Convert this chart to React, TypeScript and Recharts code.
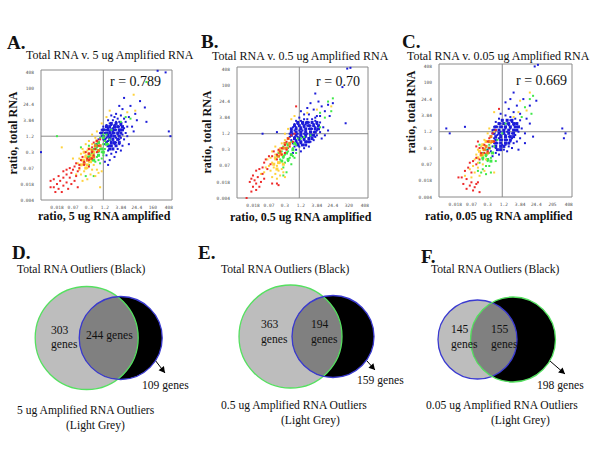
import { ScatterChart, Scatter, XAxis, YAxis, ReferenceLine, ReferenceDot } from 'recharts'

// positions on the chart's log-ratio scale, one unit per labelled tick
const xTicksA = ['', '0.018', '0.07', '0.3', '1.2', '3.84', '24.4', '160', '408']
const xTicksB = ['', '0.018', '0.07', '0.3', '1.2', '3.84', '24.4', '320', '408']
const xTicksC = ['', '0.018', '0.07', '0.3', '1.2', '3.84', '24.4', '205', '408']
const yTicks = ['0.004', '0.018', '0.07', '0.3', '1.2', '3.84', '24.4', '100', '408']

const aBlue = [[7.8,8],[7.3,8.1],[8,4.3],[8.1,4],[0,3],[6.6,4.9],[6.5,5.8],[6.2,6.2],[5.2,6.4],[5.6,5.9],[5.9,5.4],[5.5,5.2],[5.1,5.7],[4.9,5.9],[4.7,5.4],[5.3,4.9],[5.7,4.6],[5,5.3],[4.8,5.1],[5.2,5.1],[5.4,4.6],[4.4,5.3],[4.6,5.2],[4.2,5],[4.9,4.9],[4.5,5],[4.3,4.8],[4.7,4.9],[5,4.7],[5.2,4.5],[4.1,4.7],[4.4,4.7],[4.6,4.7],[4.8,4.6],[5,4.4],[5.3,4.2],[3.9,4.6],[4.2,4.5],[4.5,4.5],[4.7,4.4],[4.9,4.3],[5.1,4.1],[3.8,4.4],[4,4.4],[4.3,4.3],[4.6,4.2],[4.8,4.1],[5,3.9],[5.2,3.8],[3.7,4.2],[4,4.2],[4.2,4.1],[4.4,4.1],[4.7,3.9],[4.9,3.8],[3.8,4],[4.1,3.9],[4.3,3.9],[4.5,3.8],[4.7,3.6],[4.9,3.5],[5.1,3.4],[3.9,3.8],[4.2,3.7],[4.4,3.6],[4.6,3.5],[4.8,3.2],[4,3.5],[4.3,3.4],[4.5,3.2],[4.7,3],[4.2,3.1],[4.4,2.9],[4.6,2.7],[4.1,2.8],[4.3,2.5],[4,2.4],[4.2,2.2],[3.9,3],[3.7,3.4],[5.5,3.5],[5.4,4],[5.8,4.3],[6,5],[4.5,4.3],[4.1,4.4],[4.4,3.4],[5,3.1],[3.6,3.8],[3.5,3.5],[4.9,4.6],[4.6,4.4],[4.3,4.6]]
const aGreen = [[6.6,7.4],[1,4],[5.3,5.2],[5.6,5.1],[5,4.9],[4.4,4.4],[4.1,4.1],[3.9,4.1],[3.7,3.9],[4,3.7],[3.6,3.6],[3.9,3.5],[4.2,3.5],[3.4,3.5],[3.7,3.2],[4,3.2],[3.3,3.2],[3.6,3],[3.9,2.8],[3.2,3],[3.5,2.7],[3.8,2.6],[3.1,2.8],[3.4,2.4],[3.7,2.3],[2.9,2.7],[3.2,2.5],[3,3.4],[2.7,3],[3.3,1.5],[2.8,1.5],[2.5,3.3],[3.5,3.3],[3.8,3],[4.3,3.8],[3,2.2],[3.3,2.9],[3.6,2.5]]
const aYellow = [[5.8,6.6],[5.9,5.6],[5.4,5.5],[4.3,5.6],[4.1,5.2],[3.8,4.8],[3.5,4.3],[3.2,4.1],[3.4,3.9],[3,3.7],[2.8,3.5],[3.2,3.5],[2.6,3.2],[2.9,3.1],[3.1,3.2],[2.5,2.9],[2.8,2.8],[3.1,2.6],[2.4,2.6],[2.7,2.5],[3,2.4],[3.3,2.2],[2.3,2.3],[2.6,2.2],[2.9,2],[3.2,1.9],[3.5,1.9],[2.4,1.9],[2.7,1.8],[3.1,1.6],[2.5,1.6],[2.9,1.3],[3.6,1.7],[2.2,1.6],[2,2.6],[1.3,3.3],[3.8,1.8],[3.7,0.8],[2.6,1.2],[3.4,1.5]]
const aRed = [[3.7,3.8],[3.5,3.7],[3.3,3.6],[3.6,3.4],[3.2,3.3],[3.4,3.2],[3,3.2],[3.2,3],[3.5,3],[2.8,3],[3,2.9],[3.3,2.8],[2.6,2.7],[2.9,2.6],[3.2,2.6],[2.7,2.4],[3,2.5],[2.5,2.5],[2.4,2.2],[2.7,2.2],[3,2.1],[2.2,2.3],[2.1,2.1],[2.4,2],[2,1.9],[2.3,1.8],[1.8,2],[1.6,1.9],[1.9,1.7],[2.2,1.5],[1.6,1.6],[1.4,1.8],[1.8,1.4],[2.1,1.2],[1.4,1.4],[1.1,1.5],[0.8,1.3],[1.2,1.2],[1.6,1.1],[1.9,1],[0.6,1.2],[1,1],[1.4,0.9],[0.8,0.8],[1.1,0.7],[1.7,0.7],[0.9,0.5],[1.3,0.5],[0.6,0.8],[2.3,0.8]]
const aBlueCore = [[4.4,4.8],[4.7,4.8],[5,4.8],[4.1,4.6],[4.3,4.6],[4.6,4.6],[4.8,4.6],[5.1,4.6],[3.9,4.4],[4.2,4.4],[4.4,4.4],[4.6,4.4],[4.9,4.4],[5.1,4.4],[3.8,4.2],[4.1,4.2],[4.3,4.2],[4.5,4.2],[4.8,4.2],[5,4.2],[3.9,4],[4.2,4],[4.4,4],[4.6,4],[4.9,4],[4,3.8],[4.3,3.8],[4.5,3.8],[4.8,3.8],[4.1,3.6],[4.4,3.6],[4.6,3.6],[4.9,3.6],[4.2,3.4],[4.4,3.4],[4.7,3.4],[4.3,3.2],[4.5,3.2]]
const aGreenCore = [[3.6,3.6],[3.9,3.9],[3.4,3.2],[3.8,3.2],[4.1,3.5],[3.2,2.9],[3.6,2.8],[3.9,3],[3,2.7],[3.3,2.5],[3.5,3.4]]
const aYellowCore = [[3,3.2],[2.8,2.7],[3.1,2.4],[2.6,2.5],[2.9,2.2],[3.3,3],[2.5,2.2],[2.8,2],[3.2,2.8],[2.7,3]]
const aOrangeCore = [[3.4,3.4],[3.2,3.1],[3,2.9],[3.3,2.7],[2.9,2.5],[3.6,3.1],[3.1,2.6],[2.7,2.3],[3.5,3.7],[3.7,3.4]]

const bBlue = [[6.9,8.05],[7.1,8.1],[6.6,6.9],[6.8,4.65],[1.6,4],[2.5,4.1],[4.9,6.5],[6,5.9],[5.7,5.8],[5.3,5.7],[5.1,6],[4.6,5.9],[5.5,5.4],[5.8,5.1],[4.4,5.6],[4.8,5.5],[5.2,5.1],[4.2,5.2],[4.5,5.2],[5,5.1],[3.9,5],[4.2,4.9],[4.4,4.9],[4.7,4.9],[4.9,4.8],[5.2,4.7],[3.7,4.8],[4,4.8],[4.3,4.7],[4.5,4.7],[4.8,4.6],[5,4.6],[3.6,4.6],[3.8,4.6],[4.1,4.6],[4.4,4.5],[4.6,4.5],[4.9,4.4],[5.1,4.3],[3.5,4.4],[3.7,4.4],[4,4.4],[4.2,4.4],[4.5,4.3],[4.7,4.3],[5,4.2],[5.2,4.1],[3.4,4.2],[3.6,4.2],[3.9,4.2],[4.1,4.2],[4.3,4.2],[4.6,4.1],[4.8,4.1],[5,3.9],[3.3,4],[3.5,4],[3.8,4],[4,4],[4.2,4],[4.4,4],[4.7,3.9],[4.9,3.8],[3.3,3.8],[3.6,3.8],[3.8,3.8],[4.1,3.8],[4.3,3.8],[4.5,3.7],[4.8,3.6],[3.4,3.6],[3.7,3.6],[3.9,3.6],[4.2,3.6],[4.4,3.5],[4.6,3.5],[3.5,3.4],[3.8,3.4],[4,3.4],[4.3,3.3],[4.5,3.2],[3.6,3.2],[3.9,3.2],[4.2,3.1],[3.7,3],[4,2.9],[3.5,2.8],[5.4,4.4],[5.5,3.9],[5.3,3.7],[4.3,4.6],[4.9,5],[3.2,3.7],[5.7,4.2],[4,5.4]]
const bGreen = [[6,6.2],[5.7,6],[5.9,5.4],[5.2,5.3],[5.5,5],[5.2,4.4],[4.6,3.9],[4.2,3.8],[3.8,3.7],[3.4,3.5],[3.1,3.4],[3.5,3.1],[3.2,3.1],[3.7,2.8],[2.9,3.2],[3.2,2.9],[3.5,2.6],[2.8,2.9],[3,2.7],[3.3,2.5],[3.6,2.5],[2.6,2.8],[2.9,2.5],[3.2,2.3],[2.7,2.4],[3,2.2],[3.4,2.1],[2.9,1.9],[2.5,2.6],[3.1,1.6],[2.9,1.4],[3.7,3.3],[4,3.7]]
const bYellow = [[5.9,5.7],[5,5.5],[4.4,5.3],[3.6,5.1],[3.4,4.9],[3.2,4.3],[3,4],[3.3,3.3],[3,3.6],[2.8,3.4],[2.7,3.1],[2.4,3.2],[2.6,2.9],[2.2,2.9],[2.4,2.7],[2.1,2.5],[2.4,2.4],[2.7,2.2],[1.9,2.4],[2.2,2.2],[2.5,2],[2.8,1.8],[2,2],[2.3,1.9],[2.6,1.7],[1.8,1.9],[2.1,1.7],[2.4,1.5],[2.7,1.4],[2.5,1.2],[1.7,1.6],[2.2,1.3],[1.5,1.5],[2.9,1.6],[3,1.3]]
const bRed = [[3.7,5.7],[3.6,4],[3.4,3.9],[3.2,3.7],[3.5,3.5],[3.1,3.5],[3,3.3],[3.3,3.2],[2.8,3.1],[3.1,3],[2.7,2.9],[3,2.8],[2.6,3],[2.5,2.7],[2.8,2.7],[2.3,2.9],[2.2,2.6],[2.5,2.4],[2,2.6],[1.8,2.4],[2.1,2.1],[1.7,2.2],[1.6,1.9],[1.9,1.8],[1.4,1.8],[1.2,1.7],[1.6,1.5],[1,1.4],[1.3,1.3],[1.7,1.2],[0.9,1.2],[1.1,1.1],[1.5,1],[0.8,1],[1.2,0.9],[1,0.7],[1.4,0.7],[1.2,0.5],[0.9,0.4],[2.5,0.9],[2.6,0.8],[2.2,0.9],[0.6,0]]
const bBlueCore = [[3.8,4.7],[4.1,4.7],[4.4,4.7],[4.7,4.7],[5,4.7],[3.6,4.5],[3.9,4.5],[4.2,4.5],[4.5,4.5],[4.8,4.5],[5.1,4.5],[3.4,4.3],[3.7,4.3],[4,4.3],[4.3,4.3],[4.6,4.3],[4.9,4.3],[5.1,4.3],[3.4,4.1],[3.7,4.1],[4,4.1],[4.3,4.1],[4.6,4.1],[4.9,4.1],[3.4,3.9],[3.7,3.9],[4,3.9],[4.3,3.9],[4.6,3.9],[4.8,3.9],[3.6,3.7],[3.9,3.7],[4.2,3.7],[4.5,3.7],[4.7,3.7],[3.7,3.5],[4,3.5],[4.3,3.5],[4.5,3.5],[3.8,3.3],[4.1,3.3],[4.3,3.3]]
const bGreenCore = [[3.2,3.3],[3.5,3],[3.1,2.8],[3.4,2.7],[2.9,2.6],[3.2,2.4],[3.6,3.4],[2.8,2.3]]
const bYellowCore = [[2.7,3],[2.4,2.5],[2.6,2.2],[2.3,2.1],[2.9,2.1],[2.5,1.8],[2.8,2.7]]
const bOrangeCore = [[3.2,3.7],[3,3.4],[2.9,3.1],[3.1,3.1],[2.7,2.8],[3.3,3.4],[2.6,2.6]]

const cBlue = [[5.9,8],[6.1,8.1],[4.6,6.4],[0.45,4.2],[1.6,4.3],[0.66,3.9],[7.6,4.2],[7.8,3.9],[7.7,3.6],[5.8,3.7],[5.3,3.9],[6,5.9],[5.6,5.6],[5.2,6],[4.4,6],[4.1,5.8],[4.8,5.6],[4.3,5.4],[4.6,5.2],[5,5.1],[5.4,4.8],[5.6,4.5],[3.8,5.1],[4.1,5],[4.4,4.9],[4.7,4.8],[5,4.7],[3.7,4.8],[3.9,4.7],[4.2,4.7],[4.5,4.6],[4.7,4.5],[3.5,4.6],[3.8,4.5],[4,4.5],[4.3,4.4],[4.6,4.4],[4.8,4.3],[5.1,4.2],[3.4,4.3],[3.6,4.3],[3.9,4.3],[4.1,4.2],[4.4,4.2],[4.6,4.1],[4.9,4],[3.3,4.1],[3.5,4.1],[3.8,4],[4,4],[4.2,4],[4.5,3.9],[4.7,3.8],[5,3.6],[3.3,3.9],[3.6,3.8],[3.8,3.8],[4.1,3.8],[4.3,3.7],[4.5,3.6],[4.8,3.4],[3.4,3.6],[3.7,3.6],[3.9,3.5],[4.2,3.5],[4.4,3.4],[4.6,3.3],[3.4,3.3],[3.6,3.3],[3.9,3.2],[4.1,3.2],[4.3,3.1],[4.5,3],[3.3,3.1],[3.5,3],[3.8,2.9],[4,2.9],[4.2,2.8],[3.2,2.8],[3.5,2.7],[3.7,2.6],[3.3,2.5],[3,2.9],[4.9,2.9],[4.2,4.5],[4.7,4.1],[5.3,3.3],[4.4,4.7]]
const cGreen = [[5.8,6.2],[5.6,6],[5.3,5.5],[5.7,5.1],[5.1,4.9],[4.1,4.5],[3.9,3.9],[3.6,3.5],[3.2,3.7],[3.4,3.1],[3.1,3.2],[3.1,2.7],[2.9,2.9],[3.2,2.4],[2.9,2.5],[2.7,2.7],[3,2.2],[2.7,2.3],[2.9,1.9],[2.5,2.1],[2.7,1.7],[3.1,1.9],[2.4,1.6],[2.6,1.5],[3.2,1.5],[2.9,1.4],[3.5,2.2],[2.5,3.2]]
const cYellow = [[5.6,6.4],[5,5.9],[5.4,5.3],[4.9,5.2],[4.6,4.9],[3.4,5.2],[3.1,4.2],[3.4,4],[3,3.9],[2.8,3.5],[3.2,3.3],[2.6,3.1],[2.9,3.1],[2.4,2.9],[2.7,2.9],[2.3,2.6],[2.6,2.5],[2.9,2.3],[2.2,2.3],[2.4,2.1],[2.7,2],[2.1,1.9],[2.4,1.8],[2.8,1.6],[1.9,1.7],[2.2,1.5],[2.5,1.3],[1.6,1.3],[2,1.2],[3.4,1.5]]
const cRed = [[3.7,5.4],[3.5,4.1],[3.3,3.9],[3.1,3.6],[3.4,3.4],[3,3.4],[2.8,3.2],[3.1,3],[2.7,3],[3,2.8],[2.5,3],[2.8,2.7],[2.6,2.7],[2.4,3.4],[2.3,3.1],[2.3,2.4],[2.5,2.3],[2.1,2.2],[2.3,2],[1.9,2.1],[1.8,1.8],[2,1.5],[1.6,1.6],[1.4,1.2],[1.2,1.2],[1.7,1.1],[2,0.9],[1.5,0.8],[2.3,0.8],[1.9,0.7],[2.2,0.6],[2.4,0.9],[1.7,0.5],[2.1,0.4],[2.5,0.3]]
const cBlueCore = [[3.9,4.7],[4.2,4.7],[4.5,4.7],[3.7,4.5],[4,4.5],[4.3,4.5],[4.6,4.5],[4.8,4.5],[3.5,4.3],[3.8,4.3],[4.1,4.3],[4.4,4.3],[4.7,4.3],[4.9,4.3],[3.4,4.1],[3.7,4.1],[4,4.1],[4.3,4.1],[4.6,4.1],[4.8,4.1],[3.4,3.9],[3.7,3.9],[4,3.9],[4.3,3.9],[4.6,3.9],[3.5,3.7],[3.8,3.7],[4.1,3.7],[4.4,3.7],[4.6,3.7],[3.5,3.5],[3.8,3.5],[4.1,3.5],[4.4,3.5],[3.5,3.3],[3.8,3.3],[4.1,3.3],[4.3,3.3],[3.5,3.1],[3.8,3.1],[4,3.1],[3.6,2.9],[3.8,2.9]]
const cGreenCore = [[3.1,3],[3.3,2.7],[2.9,2.6],[3,2.3],[2.7,2.4],[3.2,2.2]]
const cYellowCore = [[2.7,3.2],[2.5,2.8],[2.7,2.6],[2.4,2.4],[2.9,3.4]]
const cOrangeCore = [[2.9,3.1],[3.1,3.4],[2.8,2.9],[3.2,3.7],[3,2.7],[2.6,2.6],[3.3,3.4]]

const amplifiedOnly = [303, 363, 145]
const shared = [244, 194, 155]
const totalOnly = [109, 159, 198]

const serif = '"Liberation Serif", "Times New Roman", serif'
const GREY = '#8a8a8a'
const RED = '#ee2a2a'
const ORANGE = '#f0861e'
const YELLOW = '#ffd23c'
const GREEN = '#3fe84a'
const BLUE = '#1c1cd8'
const VGREEN = '#55e060'
const VBLUE = '#3a3ad0'

const pts = (list: number[][]) => list.map(([x, y]) => ({ x, y }))

const Dot = (props: any) => <rect x={props.cx - 1} y={props.cy - 1} width={2} height={2} fill={props.fill} />
const Big = (props: any) => <rect x={props.cx - 1.5} y={props.cy - 1.5} width={3} height={3} fill={props.fill} />
const NoMark = () => null

function Txt({ x, y, size = 11.6, bold, children, rotate }: any) {
  return (
    <span
      style={{
        position: 'absolute', left: x, top: y, fontFamily: serif, fontSize: size,
        fontWeight: bold ? 'bold' : 'normal', whiteSpace: 'nowrap', lineHeight: 1, color: '#111',
        transform: rotate ? 'translate(-50%,-50%) rotate(-90deg)' : 'translateY(-50%)',
      }}
    >
      {children}
    </span>
  )
}

function Plot({ left, top, w, h, xTicks, blue, green, yellow, red, blueCore, greenCore, yellowCore, orangeCore }: any) {
  const xf = (v: number) => xTicks[v]
  const yf = (v: number) => yTicks[v]
  const line = { stroke: GREY, strokeWidth: 1 }
  const tick = { fontSize: 4.5, fill: '#555', fontFamily: 'DejaVu Sans Mono' }
  return (
    <div style={{ position: 'absolute', left: left - 26, top: top - 1 }}>
      <ScatterChart width={w + 29} height={h + 13} margin={{ top: 1, right: 3, left: 0, bottom: 0 }}>
        <XAxis type="number" dataKey="x" domain={[0, 8.2]} ticks={[1, 2, 3, 4, 5, 6, 7, 8]} tickFormatter={xf}
          height={12} interval={0} axisLine={false} tickLine={false} tickMargin={0} tick={tick} />
        <YAxis type="number" dataKey="y" domain={[0, 8.15]} ticks={[0, 1, 2, 3, 4, 5, 6, 7, 8]} tickFormatter={yf}
          width={26} interval={0} axisLine={false} tickLine={false} tickMargin={1} tick={tick} />
        <ReferenceLine x={0} {...line} />
        <ReferenceLine x={8.2} {...line} />
        <ReferenceLine y={0} {...line} />
        <ReferenceLine y={8.15} {...line} />
        <ReferenceLine x={3.9} {...line} />
        <ReferenceLine y={4} {...line} />
        <Scatter data={pts(blueCore)} fill={BLUE} shape={Big} isAnimationActive={false} />
        <Scatter data={pts(blue)} fill={BLUE} shape={Dot} isAnimationActive={false} />
        <Scatter data={pts(greenCore)} fill={GREEN} shape={Big} isAnimationActive={false} />
        <Scatter data={pts(green)} fill={GREEN} shape={Dot} isAnimationActive={false} />
        <Scatter data={pts(yellowCore)} fill={YELLOW} shape={Big} isAnimationActive={false} />
        <Scatter data={pts(yellow)} fill={YELLOW} shape={Dot} isAnimationActive={false} />
        <Scatter data={pts(orangeCore)} fill={ORANGE} shape={Big} isAnimationActive={false} />
        <Scatter data={pts(red)} fill={RED} shape={Dot} isAnimationActive={false} />
      </ScatterChart>
    </div>
  )
}

const lens = (d: number, r1: number, r2: number) => (props: any) => {
  const a = (d * d + r1 * r1 - r2 * r2) / (2 * d)
  const h = Math.sqrt(r1 * r1 - a * a)
  const px = props.cx + a
  return (
    <path
      d={`M${px} ${props.cy - h}A${r1} ${r1} 0 0 1 ${px} ${props.cy + h}A${r2} ${r2} 0 0 1 ${px} ${props.cy - h}`}
      fill="#808080"
    />
  )
}

const arrow = (props: any) => {
  const { x1, y1, x2, y2 } = props
  const t = Math.atan2(y2 - y1, x2 - x1)
  const p = (ang: number, len: number) => `${x2 - len * Math.cos(t + ang)},${y2 - len * Math.sin(t + ang)}`
  return (
    <g>
      <line x1={x1} y1={y1} x2={x2} y2={y2} stroke="#000" strokeWidth={1} />
      <polygon points={`${x2},${y2} ${p(0.5, 7)} ${p(-0.5, 7)}`} fill="#000" />
    </g>
  )
}

// circle geometry in panel pixels; the left disc is light, the right one black
function Venn({ left, cx1, r1, cx2, r2, cy, edge1, edge2, tip }: any) {
  return (
    <div style={{ position: 'absolute', left, top: 235 }}>
      <ScatterChart width={200} height={215} margin={{ top: 0, right: 0, left: 0, bottom: 0 }}>
        <XAxis type="number" dataKey="x" domain={[0, 200]} hide />
        <YAxis type="number" dataKey="y" domain={[0, 215]} reversed hide />
        <Scatter data={[{ x: cx1, y: cy }, { x: cx2, y: cy }]} shape={NoMark} isAnimationActive={false} />
        <ReferenceDot x={cx1} y={cy} r={r1} fill="#bdbdbd" stroke="none" />
        <ReferenceDot x={cx2} y={cy} r={r2} fill="#000" stroke="none" />
        <ReferenceDot x={cx1} y={cy} r={r1} shape={lens(cx2 - cx1, r1, r2)} />
        <ReferenceDot x={cx1} y={cy} r={r1} fill="none" stroke={edge1} strokeWidth={1.3} />
        <ReferenceDot x={cx2} y={cy} r={r2} fill="none" stroke={edge2} strokeWidth={1.3} />
        <ReferenceLine segment={tip} shape={arrow} />
      </ScatterChart>
    </div>
  )
}

export default function App() {
  return (
    <div style={{ position: 'absolute', left: 0, top: 0, width: 600, height: 450, background: '#fff', overflow: 'hidden' }}>
      <Plot left={41} top={70} w={131} h={130} xTicks={xTicksA} blue={aBlue} green={aGreen} yellow={aYellow} red={aRed}
        blueCore={aBlueCore} greenCore={aGreenCore} yellowCore={aYellowCore} orangeCore={aOrangeCore} />
      <Plot left={237} top={67} w={131} h={131} xTicks={xTicksB} blue={bBlue} green={bGreen} yellow={bYellow} red={bRed}
        blueCore={bBlueCore} greenCore={bGreenCore} yellowCore={bYellowCore} orangeCore={bOrangeCore} />
      <Plot left={439} top={64} w={133} h={133} xTicks={xTicksC} blue={cBlue} green={cGreen} yellow={cYellow} red={cRed}
        blueCore={cBlueCore} greenCore={cGreenCore} yellowCore={cYellowCore} orangeCore={cOrangeCore} />

      <Txt x={7} y={42} size={19} bold>A.</Txt>
      <Txt x={26} y={55} size={12}>Total RNA v. 5 ug Amplified RNA</Txt>
      <Txt x={110} y={82} size={14}>r = 0.789</Txt>
      <Txt x={38} y={216} size={12} bold>ratio, 5 ug RNA amplified</Txt>
      <Txt x={13} y={133} size={12} bold rotate>ratio, total RNA</Txt>

      <Txt x={201} y={41} size={19} bold>B.</Txt>
      <Txt x={212} y={56} size={12}>Total RNA v. 0.5 ug Amplified RNA</Txt>
      <Txt x={316} y={82} size={14}>r = 0.70</Txt>
      <Txt x={230} y={217} size={12} bold>ratio, 0.5 ug RNA amplified</Txt>
      <Txt x={207} y={132} size={12} bold rotate>ratio, total RNA</Txt>

      <Txt x={402} y={41} size={19} bold>C.</Txt>
      <Txt x={407} y={56} size={12}>Total RNA v. 0.05 ug Amplified RNA</Txt>
      <Txt x={516} y={81} size={14}>r = 0.669</Txt>
      <Txt x={425} y={216} size={12} bold>ratio, 0.05 ug RNA amplified</Txt>
      <Txt x={411} y={112} size={12} bold rotate>ratio, total RNA</Txt>

      <Venn left={0} cx1={86.7} r1={51.5} cx2={120.7} r2={41.5} cy={103} edge1={VGREEN} edge2={VBLUE}
        tip={[{ x: 155, y: 125 }, { x: 165, y: 138 }]} />
      <Venn left={200} cx1={90.5} r1={51.5} cx2={133} r2={41} cy={101.5} edge1={VGREEN} edge2={VBLUE}
        tip={[{ x: 167, y: 126 }, { x: 175, y: 135 }]} />
      <Venn left={400} cx1={77.5} r1={39.5} cx2={113} r2={42.5} cy={104.5} edge1={VBLUE} edge2={VGREEN}
        tip={[{ x: 150, y: 126 }, { x: 165, y: 139 }]} />

      <Txt x={12} y={252} size={19} bold>D.</Txt>
      <Txt x={17} y={270}>Total RNA Outliers (Black)</Txt>
      <Txt x={51} y={331}>{amplifiedOnly[0]}</Txt>
      <Txt x={51} y={345}>genes</Txt>
      <Txt x={86} y={336}>{shared[0]} genes</Txt>
      <Txt x={142} y={386}>{totalOnly[0]} genes</Txt>
      <Txt x={17} y={411}>5 ug Amplified RNA Outliers</Txt>
      <Txt x={66} y={426}>(Light Grey)</Txt>

      <Txt x={198} y={252} size={19} bold>E.</Txt>
      <Txt x={221} y={270}>Total RNA Outliers (Black)</Txt>
      <Txt x={261} y={325}>{amplifiedOnly[1]}</Txt>
      <Txt x={261} y={340}>genes</Txt>
      <Txt x={311} y={325}>{shared[1]}</Txt>
      <Txt x={311} y={340}>genes</Txt>
      <Txt x={357} y={381}>{totalOnly[1]} genes</Txt>
      <Txt x={221} y={406}>0.5 ug Amplified RNA Outliers</Txt>
      <Txt x={281} y={421}>(Light Grey)</Txt>

      <Txt x={421} y={256} size={19} bold>F.</Txt>
      <Txt x={431} y={270}>Total RNA Outliers (Black)</Txt>
      <Txt x={451} y={330}>{amplifiedOnly[2]}</Txt>
      <Txt x={451} y={345}>genes</Txt>
      <Txt x={491} y={330}>{shared[2]}</Txt>
      <Txt x={491} y={345}>genes</Txt>
      <Txt x={537} y={386}>{totalOnly[2]} genes</Txt>
      <Txt x={426} y={406}>0.05 ug Amplified RNA Outliers</Txt>
      <Txt x={491} y={421}>(Light Grey)</Txt>
    </div>
  )
}
